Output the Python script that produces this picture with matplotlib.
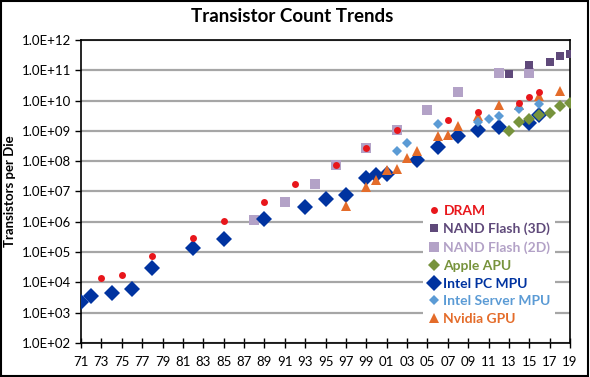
import matplotlib
matplotlib.use("Agg")
import matplotlib.pyplot as plt
from matplotlib.patches import Rectangle

plt.rcParams['font.family'] = ['Lato', 'DejaVu Sans']

# year, transistors per die
dram_years = [1973, 1975, 1978, 1982, 1985, 1989, 1992, 1996, 1999, 2002, 2007, 2010, 2014, 2015, 2016]
dram_vals = [1.4e4, 1.8e4, 7.2e4, 2.9e5, 1.1e6, 4.6e6, 1.8e7, 7.2e7, 2.8e8, 1.1e9, 2.2e9, 4.3e9, 8.5e9, 1.35e10, 1.95e10]

nand3d_years = [2013, 2015, 2017, 2018, 2019]
nand3d_vals = [7.4e10, 1.48e11, 1.9e11, 2.95e11, 3.5e11]

nand2d_years = [1988, 1991, 1994, 1996, 1999, 2002, 2005, 2008, 2012, 2015]
nand2d_vals = [1.15e6, 4.6e6, 1.8e7, 7.2e7, 2.8e8, 1.1e9, 4.8e9, 1.95e10, 8.0e10, 8.0e10]

apple_years = [2013, 2014, 2015, 2016, 2017, 2018, 2019]
apple_vals = [1.0e9, 2.0e9, 2.4e9, 3.3e9, 4.0e9, 6.6e9, 8.1e9]

intel_pc_years = [1971, 1972, 1974, 1976, 1978, 1982, 1985, 1989, 1993, 1995, 1997,
                  1999, 2000, 2001, 2004, 2006, 2008, 2010, 2012, 2015, 2016]
intel_pc_vals = [2.3e3, 3.5e3, 4.5e3, 6.0e3, 2.9e4, 1.34e5, 2.75e5, 1.2e6, 3.1e6, 5.5e6, 7.5e6,
                 2.8e7, 3.5e7, 3.7e7, 1.1e8, 2.9e8, 6.6e8, 1.07e9, 1.35e9, 1.8e9, 3.3e9]

intel_srv_years = [2002, 2003, 2006, 2010, 2011, 2012, 2014, 2016]
intel_srv_vals = [2.1e8, 4.1e8, 1.65e9, 2.0e9, 2.4e9, 3.0e9, 5.3e9, 8.0e9]

nvidia_years = [1997, 1999, 2000, 2001, 2002, 2003, 2004, 2006, 2007, 2008, 2010, 2012, 2014, 2016, 2018]
nvidia_vals = [3.3e6, 1.4e7, 2.4e7, 5.0e7, 5.7e7, 1.25e8, 2.1e8, 6.6e8, 7.4e8, 1.4e9, 3.0e9, 7.1e9, 7.3e9, 1.4e10, 2.0e10]

x_ticks = list(range(1971, 2020, 2))
x_labels = [f"{y % 100:02d}" for y in x_ticks]

fig = plt.figure(figsize=(5.9, 3.77), dpi=100)
ax = fig.add_axes([0.1373, 0.0902, 0.8288, 0.8038])

series = [
    # label, x, y, marker, size, color, zorder
    ("DRAM", dram_years, dram_vals, 'o', 5.0, '#e8161b', 9),
    ("NAND Flash (3D)", nand3d_years, nand3d_vals, 's', 6.0, '#5f497a', 8),
    ("NAND Flash (2D)", nand2d_years, nand2d_vals, 's', 7.0, '#b3a2c7', 3),
    ("Apple APU", apple_years, apple_vals, 'D', 6.5, '#77933c', 7),
    ("Intel PC MPU", intel_pc_years, intel_pc_vals, 'D', 8.0, '#0033a0', 4),
    ("Intel Server MPU", intel_srv_years, intel_srv_vals, 'D', 5.0, '#5b9bd5', 6),
    ("Nvidia GPU", nvidia_years, nvidia_vals, '^', 7.0, '#e46c2a', 5),
]

for label, xs, ys, mk, ms, col, z in series:
    ax.plot(xs, ys, linestyle='none', marker=mk, markersize=ms, color=col,
            markeredgewidth=0, label=label, zorder=z)

ax.set_yscale('log')
ax.set_ylim(1e2, 1e12)
ax.set_xlim(1971, 2019)
ax.set_yticks([10.0 ** p for p in range(2, 13)])
ax.set_yticklabels([f"1.0E+{p:02d}" if p < 10 else f"1.0E+{p}" for p in range(2, 13)])
ax.minorticks_off()
ax.set_xticks(x_ticks)
ax.set_xticklabels(x_labels)
ax.tick_params(axis='y', direction='out', length=4, width=1, labelsize=9.5, pad=3)
ax.tick_params(axis='x', direction='inout', length=7, width=1, labelsize=9.5, pad=6)

ax.grid(axis='y', color='#a6a6a6', linewidth=1.6, zorder=0)
ax.set_axisbelow(True)
for sp in ax.spines.values():
    sp.set_color('black')
    sp.set_linewidth(1.2)

ax.set_ylabel("Transistors per Die", fontsize=9.5, fontweight='bold', labelpad=4)
fig.text(0.495, 0.957, "Transistor Count Trends", ha='center', va='center',
         fontsize=13.5, fontweight='bold')

leg = ax.legend(loc='lower left', bbox_to_anchor=(0.70, 0.045), frameon=True,
                fancybox=False, edgecolor='none', facecolor='white', framealpha=1,
                prop={'weight': 'bold', 'size': 10}, handletextpad=0.15,
                handlelength=1.0, labelspacing=0.42, borderpad=0.3,
                borderaxespad=0)
for txt, s in zip(leg.get_texts(), series):
    txt.set_color(s[5])
leg.set_zorder(10)

fig.patches.append(Rectangle((0.002, 0.003), 0.995, 0.994, transform=fig.transFigure,
                             fill=False, edgecolor='black', linewidth=1.5))

fig.savefig("out.png", dpi=100)
